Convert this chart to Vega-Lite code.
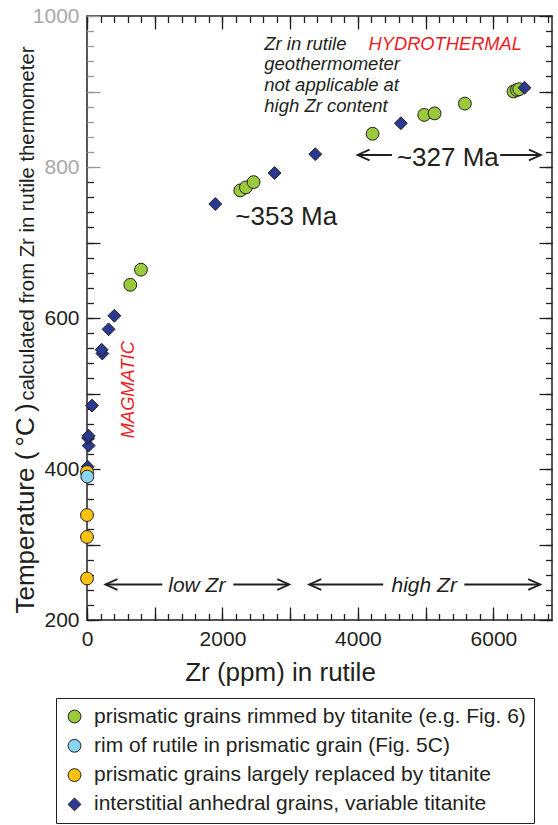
{
  "$schema": "https://vega.github.io/schema/vega-lite/v6.json",
  "autosize": {"type": "none"},
  "padding": {"left": 87, "top": 16, "right": 6, "bottom": 205},
  "width": 465,
  "height": 604,
  "background": "white",
  "config": {
    "font": "Liberation Sans",
    "view": {"stroke": "#231f20", "strokeWidth": 1.5},
    "axis": {"grid": false, "domain": false, "labelFont": "Liberation Sans", "titleFont": "Liberation Sans", "tickColor": "#231f20", "labelColor": "#231f20", "titleColor": "#231f20", "titleFontWeight": "normal", "labelFlush": false, "labelOverlap": false, "tickWidth": 1.3},
    "legend": {"labelFont": "Liberation Sans"}
  },
  "resolve": {"axis": {"x": "independent", "y": "independent"}},
  "layer": [
    {
      "data": {"values": [
        {"zr": 639, "temp": 644, "type": "prismatic grains rimmed by titanite (e.g. Fig. 6)"},
        {"zr": 797, "temp": 664, "type": "prismatic grains rimmed by titanite (e.g. Fig. 6)"},
        {"zr": 2263, "temp": 769, "type": "prismatic grains rimmed by titanite (e.g. Fig. 6)"},
        {"zr": 2346, "temp": 773, "type": "prismatic grains rimmed by titanite (e.g. Fig. 6)"},
        {"zr": 2459, "temp": 780, "type": "prismatic grains rimmed by titanite (e.g. Fig. 6)"},
        {"zr": 4216, "temp": 844, "type": "prismatic grains rimmed by titanite (e.g. Fig. 6)"},
        {"zr": 4979, "temp": 869, "type": "prismatic grains rimmed by titanite (e.g. Fig. 6)"},
        {"zr": 5131, "temp": 871, "type": "prismatic grains rimmed by titanite (e.g. Fig. 6)"},
        {"zr": 5579, "temp": 884, "type": "prismatic grains rimmed by titanite (e.g. Fig. 6)"},
        {"zr": 6297, "temp": 900, "type": "prismatic grains rimmed by titanite (e.g. Fig. 6)"},
        {"zr": 6347, "temp": 902, "type": "prismatic grains rimmed by titanite (e.g. Fig. 6)"},
        {"zr": 6381, "temp": 903, "type": "prismatic grains rimmed by titanite (e.g. Fig. 6)"},
        {"zr": 9, "temp": 403, "type": "interstitial anhedral grains, variable titanite"},
        {"zr": 24, "temp": 431, "type": "interstitial anhedral grains, variable titanite"},
        {"zr": 15, "temp": 441, "type": "interstitial anhedral grains, variable titanite"},
        {"zr": 24, "temp": 444, "type": "interstitial anhedral grains, variable titanite"},
        {"zr": 74, "temp": 484, "type": "interstitial anhedral grains, variable titanite"},
        {"zr": 226, "temp": 553, "type": "interstitial anhedral grains, variable titanite"},
        {"zr": 216, "temp": 558, "type": "interstitial anhedral grains, variable titanite"},
        {"zr": 319, "temp": 585, "type": "interstitial anhedral grains, variable titanite"},
        {"zr": 404, "temp": 603, "type": "interstitial anhedral grains, variable titanite"},
        {"zr": 1894, "temp": 751, "type": "interstitial anhedral grains, variable titanite"},
        {"zr": 2769, "temp": 792, "type": "interstitial anhedral grains, variable titanite"},
        {"zr": 3370, "temp": 817, "type": "interstitial anhedral grains, variable titanite"},
        {"zr": 4634, "temp": 858, "type": "interstitial anhedral grains, variable titanite"},
        {"zr": 6459, "temp": 905, "type": "interstitial anhedral grains, variable titanite"},
        {"zr": 0, "temp": 255, "type": "prismatic grains largely replaced by titanite"},
        {"zr": 0, "temp": 310, "type": "prismatic grains largely replaced by titanite"},
        {"zr": 0, "temp": 339, "type": "prismatic grains largely replaced by titanite"},
        {"zr": 0, "temp": 396, "type": "prismatic grains largely replaced by titanite"},
        {"zr": 5, "temp": 390, "type": "rim of rutile in prismatic grain (Fig. 5C)"}
      ]},
      "mark": {"type": "point", "filled": true, "opacity": 1, "stroke": "#231f20", "strokeWidth": 1},
      "encoding": {
        "x": {"field": "zr", "type": "quantitative", "scale": {"domain": [0, 6865], "nice": false, "zero": false},
          "axis": {"orient": "bottom", "values": [0, 2000, 4000, 6000], "format": "d", "ticks": false, "tickSize": 0, "labelPadding": 25, "labelBaseline": "alphabetic", "labelAlign": "center", "labelFontSize": 21,
            "title": "Zr (ppm) in rutile", "titleFontSize": 26, "titleX": 193, "titleY": 60, "titleAlign": "center", "titleBaseline": "alphabetic", "titleAngle": 0}},
        "y": {"field": "temp", "type": "quantitative", "scale": {"domain": [200, 1000], "nice": false, "zero": false},
          "axis": {"orient": "left", "values": [200, 400, 600, 800, 1000], "format": "d", "ticks": false, "tickSize": 0, "labelPadding": 8, "labelBaseline": "middle", "labelFontSize": 21,
            "labelColor": {"condition": {"test": "datum.value >= 800", "value": "#a8a8a8"}, "value": "#231f20"},
            "title": "Temperature (\u2009°C\u2009)", "titleFontSize": 26, "titleAngle": 270, "titleX": -54, "titleY": 597, "titleAlign": "left", "titleBaseline": "alphabetic"}},
        "color": {"field": "type", "type": "nominal",
          "scale": {"domain": ["prismatic grains rimmed by titanite (e.g. Fig. 6)", "rim of rutile in prismatic grain (Fig. 5C)", "prismatic grains largely replaced by titanite", "interstitial anhedral grains, variable titanite"], "range": ["#9aca3c", "#8ad4f2", "#ffc20e", "#2b3990"]},
          "legend": {"orient": "none", "legendX": -31, "legendY": 682, "title": null, "padding": 8, "strokeColor": "#231f20", "fillColor": "white", "labelFontSize": 21, "labelLimit": 1000, "labelOffset": 9, "rowPadding": 7.3, "symbolSize": 150, "symbolFillColor": "#ffffff", "symbolStrokeColor": "#231f20", "symbolStrokeWidth": 1, "labelColor": "#231f20"}},
        "shape": {"field": "type", "type": "nominal",
          "scale": {"domain": ["prismatic grains rimmed by titanite (e.g. Fig. 6)", "rim of rutile in prismatic grain (Fig. 5C)", "prismatic grains largely replaced by titanite", "interstitial anhedral grains, variable titanite"], "range": ["circle", "circle", "circle", "diamond"]},
          "legend": {"orient": "none", "legendX": -31, "legendY": 682, "title": null, "padding": 8, "strokeColor": "#231f20", "fillColor": "white", "labelFontSize": 21, "labelLimit": 1000, "labelOffset": 9, "rowPadding": 7.3, "symbolSize": 150, "symbolFillColor": "#ffffff", "symbolStrokeColor": "#231f20", "symbolStrokeWidth": 1, "labelColor": "#231f20"}},
        "size": {"field": "type", "type": "nominal",
          "scale": {"domain": ["prismatic grains rimmed by titanite (e.g. Fig. 6)", "rim of rutile in prismatic grain (Fig. 5C)", "prismatic grains largely replaced by titanite", "interstitial anhedral grains, variable titanite"], "range": [165, 165, 165, 190]},
          "legend": null}
      }
    },
    {
      "data": {"values": [
        {"zr": 2617, "temp": 955.6, "label": "Zr in rutile\ngeothermometer\nnot applicable at\nhigh Zr content"}
      ]},
      "mark": {"type": "text", "font": "Liberation Sans", "fontStyle": "italic", "fontSize": 18.5, "align": "left", "baseline": "alphabetic", "lineBreak": "\n", "lineHeight": 20.7, "color": "#231f20"},
      "encoding": {
        "x": {"field": "zr", "type": "quantitative", "scale": {"domain": [0, 6865], "nice": false, "zero": false},
          "axis": {"orient": "bottom", "values": [0, 1000, 2000, 3000, 4000, 5000, 6000], "labels": false, "ticks": true, "tickSize": -13, "title": null}},
        "y": {"field": "temp", "type": "quantitative", "scale": {"domain": [200, 1000], "nice": false, "zero": false},
          "axis": {"orient": "left", "values": [200, 300, 400, 500, 600, 700, 800, 900, 1000], "labels": false, "ticks": true, "tickSize": -13, "title": null,
            "tickColor": {"condition": {"test": "datum.value > 790", "value": "#9a9a9a"}, "value": "#231f20"}}},
        "text": {"field": "label", "type": "nominal"}
      }
    },
    {
      "data": {"values": [
        {"zr": 4157, "temp": 955, "label": "HYDROTHERMAL"}
      ]},
      "mark": {"type": "text", "font": "Liberation Sans", "fontStyle": "italic", "fontSize": 18.3, "align": "left", "baseline": "alphabetic", "color": "#ed1c24"},
      "encoding": {
        "x": {"field": "zr", "type": "quantitative", "scale": {"domain": [0, 6865], "nice": false, "zero": false},
          "axis": {"orient": "bottom", "values": [0, 200, 400, 600, 800, 1000, 1200, 1400, 1600, 1800, 2000, 2200, 2400, 2600, 2800, 3000, 3200, 3400, 3600, 3800, 4000, 4200, 4400, 4600, 4800, 5000, 5200, 5400, 5600, 5800, 6000, 6200, 6400, 6600, 6800], "labels": false, "ticks": true, "tickSize": -6.5, "title": null}},
        "y": {"field": "temp", "type": "quantitative", "scale": {"domain": [200, 1000], "nice": false, "zero": false},
          "axis": {"orient": "left", "values": [200, 220, 240, 260, 280, 300, 320, 340, 360, 380, 400, 420, 440, 460, 480, 500, 520, 540, 560, 580, 600, 620, 640, 660, 680, 700, 720, 740, 760, 780, 800, 820, 840, 860, 880, 900, 920, 940, 960, 980, 1000], "labels": false, "ticks": true, "tickSize": -6.5, "title": null,
            "tickColor": {"condition": {"test": "datum.value > 790", "value": "#9a9a9a"}, "value": "#231f20"}}},
        "text": {"field": "label", "type": "nominal"}
      }
    },
    {
      "data": {"values": [
        {"zr": 698, "temp": 440.7, "label": "MAGMATIC"}
      ]},
      "mark": {"type": "text", "font": "Liberation Sans", "fontStyle": "italic", "fontSize": 18.3, "align": "left", "baseline": "alphabetic", "angle": 270, "color": "#ed1c24"},
      "encoding": {
        "x": {"field": "zr", "type": "quantitative", "scale": {"domain": [0, 6865], "nice": false, "zero": false},
          "axis": {"orient": "top", "values": [0, 1000, 2000, 3000, 4000, 5000, 6000], "labels": false, "ticks": true, "tickSize": -13, "title": null}},
        "y": {"field": "temp", "type": "quantitative", "scale": {"domain": [200, 1000], "nice": false, "zero": false},
          "axis": {"orient": "right", "values": [200, 300, 400, 500, 600, 700, 800, 900, 1000], "labels": false, "ticks": true, "tickSize": -13, "title": null}},
        "text": {"field": "label", "type": "nominal"}
      }
    },
    {
      "data": {"values": [
        {"zr": 2189, "temp": 723, "label": "~353 Ma"},
        {"zr": 4575, "temp": 801.7, "label": "~327 Ma"}
      ]},
      "mark": {"type": "text", "font": "Liberation Sans", "fontSize": 26, "align": "left", "baseline": "alphabetic", "color": "#231f20"},
      "encoding": {
        "x": {"field": "zr", "type": "quantitative", "scale": {"domain": [0, 6865], "nice": false, "zero": false},
          "axis": {"orient": "top", "values": [0, 200, 400, 600, 800, 1000, 1200, 1400, 1600, 1800, 2000, 2200, 2400, 2600, 2800, 3000, 3200, 3400, 3600, 3800, 4000, 4200, 4400, 4600, 4800, 5000, 5200, 5400, 5600, 5800, 6000, 6200, 6400, 6600, 6800], "labels": false, "ticks": true, "tickSize": -6.5, "title": null}},
        "y": {"field": "temp", "type": "quantitative", "scale": {"domain": [200, 1000], "nice": false, "zero": false},
          "axis": {"orient": "right", "values": [200, 220, 240, 260, 280, 300, 320, 340, 360, 380, 400, 420, 440, 460, 480, 500, 520, 540, 560, 580, 600, 620, 640, 660, 680, 700, 720, 740, 760, 780, 800, 820, 840, 860, 880, 900, 920, 940, 960, 980, 1000], "labels": false, "ticks": true, "tickSize": -6.5, "title": null}},
        "text": {"field": "label", "type": "nominal"}
      }
    },
    {
      "data": {"values": [
        {"zr": 1621, "temp": 237, "label": "low Zr"},
        {"zr": 4978, "temp": 237, "label": "high Zr"}
      ]},
      "mark": {"type": "text", "font": "Liberation Sans", "fontStyle": "italic", "fontSize": 21, "align": "center", "baseline": "alphabetic", "color": "#231f20"},
      "encoding": {
        "x": {"field": "zr", "type": "quantitative", "scale": {"domain": [0, 6865], "nice": false, "zero": false}, "axis": null},
        "y": {"field": "temp", "type": "quantitative", "scale": {"domain": [200, 1000], "nice": false, "zero": false},
          "axis": {"orient": "left", "ticks": false, "labels": false, "domain": false, "title": "calculated from Zr in rutile thermometer", "titleFontSize": 20.3, "titleAngle": 270, "titleX": -54, "titleY": 384, "titleAlign": "left", "titleBaseline": "alphabetic"}},
        "text": {"field": "label", "type": "nominal"}
      }
    },
    {
      "data": {"values": [
        {"zr": 272, "zr2": 1112, "temp": 247},
        {"zr": 2160, "zr2": 2986, "temp": 247},
        {"zr": 3281, "zr2": 4373, "temp": 247},
        {"zr": 5570, "zr2": 6691, "temp": 247},
        {"zr": 3994, "zr2": 4502, "temp": 815.9},
        {"zr": 6100, "zr2": 6701, "temp": 815.9}
      ]},
      "mark": {"type": "rule", "color": "#231f20", "strokeWidth": 1.8},
      "encoding": {
        "x": {"field": "zr", "type": "quantitative", "scale": {"domain": [0, 6865], "nice": false, "zero": false}, "axis": null},
        "x2": {"field": "zr2"},
        "y": {"field": "temp", "type": "quantitative", "scale": {"domain": [200, 1000], "nice": false, "zero": false}, "axis": null}
      }
    },
    {
      "data": {"values": [
        {"zr": 272, "temp": 247},
        {"zr": 3281, "temp": 247},
        {"zr": 3994, "temp": 815.9}
      ]},
      "mark": {"type": "point", "shape": "M1,-0.45L0,0L1,0.45", "filled": false, "opacity": 1, "size": 576, "strokeWidth": 1.8, "color": "#231f20"},
      "encoding": {
        "x": {"field": "zr", "type": "quantitative", "scale": {"domain": [0, 6865], "nice": false, "zero": false}, "axis": null},
        "y": {"field": "temp", "type": "quantitative", "scale": {"domain": [200, 1000], "nice": false, "zero": false}, "axis": null}
      }
    },
    {
      "data": {"values": [
        {"zr": 2986, "temp": 247},
        {"zr": 6691, "temp": 247},
        {"zr": 6701, "temp": 815.9}
      ]},
      "mark": {"type": "point", "shape": "M-1,-0.45L0,0L-1,0.45", "filled": false, "opacity": 1, "size": 576, "strokeWidth": 1.8, "color": "#231f20"},
      "encoding": {
        "x": {"field": "zr", "type": "quantitative", "scale": {"domain": [0, 6865], "nice": false, "zero": false}, "axis": null},
        "y": {"field": "temp", "type": "quantitative", "scale": {"domain": [200, 1000], "nice": false, "zero": false}, "axis": null}
      }
    }
  ]
}
